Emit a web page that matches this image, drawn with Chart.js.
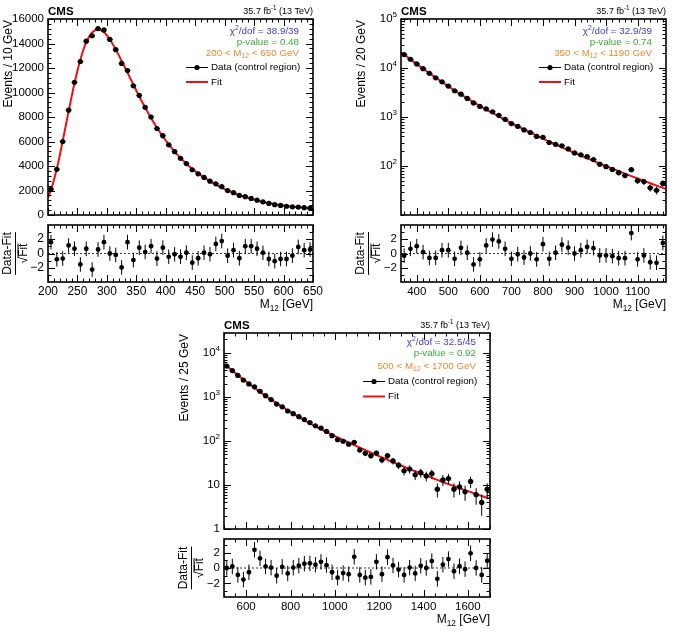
<!DOCTYPE html>
<html>
<head>
<meta charset="utf-8">
<script src="https://cdn.jsdelivr.net/npm/chart.js@4/dist/chart.umd.min.js"></script>
<style>
  body { margin: 0; background: #fff; }
  #wrap { position: relative; width: 673px; height: 632px; }
  #wrap canvas { position: absolute; left: 0; top: 0; }
</style>
</head>
<body>
<div id="wrap">
  <canvas id="mainA" width="673" height="632"></canvas>
  <canvas id="pullA" width="673" height="632"></canvas>
  <canvas id="mainB" width="673" height="632"></canvas>
  <canvas id="pullB" width="673" height="632"></canvas>
  <canvas id="mainC" width="673" height="632"></canvas>
  <canvas id="pullC" width="673" height="632"></canvas>
</div>
<script>
// Three dijet-mass control-region fits, each a main plot with a pull plot below.

// --- panel A: 200-650 GeV, 10 GeV bins
const massA = [205, 215, 225, 235, 245, 255, 265, 275, 285, 295, 305, 315, 325, 335, 345, 355, 365, 375, 385, 395,
  405, 415, 425, 435, 445, 455, 465, 475, 485, 495, 505, 515, 525, 535, 545, 555, 565, 575, 585, 595,
  605, 615, 625, 635, 645];
const countsA = [2100, 3731, 5996, 8561, 10827, 12531, 14187, 14631, 15218, 15109, 14330, 13497, 12377, 11787, 10547,
  9759, 8789, 7999, 7061, 6474, 5726, 5173, 4629, 4196, 3693, 3362, 3071, 2760, 2545, 2315,
  1992, 1824, 1599, 1498, 1351, 1207, 1073, 942, 839, 779, 715, 670, 651, 594, 558];
const fitMassA = [200, ...massA, 650];
const fitA = [1420, 2030, 3780, 6050, 8460, 10760, 12700, 14110, 14900, 15150, 14920, 14330, 13520, 12590, 11620,
  10640, 9680, 8770, 7910, 7120, 6410, 5760, 5180, 4660, 4190, 3770, 3400, 3065, 2765, 2480,
  2235, 2005, 1805, 1625, 1460, 1315, 1185, 1070, 965, 870, 800, 735, 678, 628, 583, 545, 528];
const pullsA = [1.55, -0.8, -0.7, 1.1, 0.65, -1.5, 0.65, -2.2, 0.55, 1.55, 0, -0.2, -1.9, 1.55, -0.9,
  0.8, 0.2, 1.0, -0.7, 0.8, -0.45, -0.1, -0.45, 0.1, -1.25, -0.65, 0.1, -0.1, 1.3, 1.7,
  -0.3, 0.45, -0.65, 1.0, 1.0, 0.65, 0.1, -0.75, -1.05, -0.75, -0.75, -0.3, 0.9, 0.45, 0.55];
const xTicksA = [200, 250, 300, 350, 400, 450, 500, 550, 600, 650];
const yTicksA = [0, 2000, 4000, 6000, 8000, 10000, 12000, 14000, 16000];

// --- panel B: 350-1190 GeV, 20 GeV bins
const massB = [360, 380, 400, 420, 440, 460, 480, 500, 520, 540, 560, 580, 600, 620, 640, 660, 680, 700, 720, 740,
  760, 780, 800, 820, 840, 860, 880, 900, 920, 940, 960, 980, 1000, 1020, 1040, 1060, 1080, 1100, 1120, 1140,
  1160, 1180];
const countsB = [18749, 15078, 12130, 9698, 7777, 6302, 5212, 4269, 3437, 2921, 2395, 1933, 1647, 1461, 1276,
  1081, 898, 733, 644, 545, 483, 402, 386, 302, 277, 259, 223, 185, 169, 155,
  135, 109, 97, 85, 73, 64, 84, 50, 48, 36, 32, 44];
const fitMassB = [350, ...massB, 1190];
const fitB = [21000, 18790, 15000, 12020, 9680, 7830, 6350, 5180, 4240, 3480, 2880, 2390, 2000, 1680, 1420,
  1210, 1028, 879, 753, 647, 558, 483, 418, 362, 315, 275, 240, 211, 185, 163,
  144, 127, 112, 99.5, 88.3, 78.5, 69.8, 62.2, 55.6, 49.7, 44.5, 39.8, 35.7, 33.9];
const pullsB = [-0.3, 0.64, 1.0, 0.18, -0.6, -0.6, 0.45, 0.45, -0.73, 0.77, 0.1, -1.5, -0.8, 1.1, 1.9,
  1.65, 0.64, -0.73, -0.1, -0.55, 0, -0.8, 1.27, -0.73, 0.1, 1.2, 0.8, 0, 0.45, 0.9,
  0.73, -0.27, -0.27, -0.36, -0.64, -0.64, 2.8, -0.8, -0.27, -1.2, -1.27, 1.45];
const xTicksB = [400, 500, 600, 700, 800, 900, 1000, 1100];
const yTicksB = [100, 1000, 10000, 100000];

// --- panel C: 500-1700 GeV, 25 GeV bins
const massC = [512.5, 537.5, 562.5, 587.5, 612.5, 637.5, 662.5, 687.5, 712.5, 737.5, 762.5, 787.5,
  812.5, 837.5, 862.5, 887.5, 912.5, 937.5, 962.5, 987.5, 1012.5, 1037.5, 1062.5, 1087.5,
  1112.5, 1137.5, 1162.5, 1187.5, 1212.5, 1237.5, 1262.5, 1287.5, 1312.5, 1337.5, 1362.5, 1387.5,
  1412.5, 1437.5, 1462.5, 1487.5, 1512.5, 1537.5, 1562.5, 1587.5, 1612.5, 1637.5, 1662.5, 1687.5];
const countsC = [4977, 3930, 3049, 2392, 1953, 1686, 1335, 1057, 863, 683, 593, 476, 414, 354, 304, 260,
  220, 195, 164, 131, 106, 98, 84, 93, 62, 52, 46, 53, 37, 46, 35, 28,
  21, 23, 17, 19, 16, 18, 8, 13, 14, 8, 9, 7, 12, 6, 4, 8];
const fitMassC = [500, ...massC, 1700];
const fitC = [5550, 4977, 3917, 3099, 2467, 1977, 1592, 1290, 1051, 861.7, 709.9, 588.8, 491.8, 412.9, 348,
  294.7, 250.8, 214.3, 184.1, 158.8, 137.6, 119.8, 104.6, 91.5, 80, 70.1, 61.6, 54.2, 47.7,
  42.1, 37.2, 32.9, 29.1, 25.8, 22.9, 20.4, 18.2, 16.2, 14.5, 13, 11.6, 10.4, 9.4, 8.5, 7.6,
  6.9, 6.2, 5.6, 5.1, 4.9];
const pullsC = [0, 0.2, -0.9, -1.5, -0.55, 2.35, 1.25, 0.2, 0.05, -1.0, 0.15, -0.7, 0.05, 0.3, 0.55, 0.6,
  0.42, 0.8, 0.37, -0.55, -1.25, -0.65, -0.8, 1.45, -0.9, -1.25, -1.15, 0.8, -0.8, 1.4, 0.33, -0.2,
  -0.9, 0.05, -0.7, 0.28, 0, 0.9, -1.4, 0.42, 1.15, -0.42, 0.23, -0.15, 1.9, 0, -0.9, 0.95];
const xTicksC = [600, 800, 1000, 1200, 1400, 1600];
const yTicksC = [1, 10, 100, 1000, 10000];

const pullTicks = [-2, 0, 2];

const W = 673, H = 632;
const FONT = '"Liberation Sans", Arial, Helvetica, sans-serif';
const RED = '#f01010';
const BLUE = '#3c3cc8';
const GREEN = '#38aa38';
const ORANGE = '#e68a2e';

function setFont(ctx, size, bold) {
  ctx.font = (bold ? 'bold ' : '') + size + 'px ' + FONT;
}

// parts: [[text, ''|'sup'|'sub'], ...]
function richWidth(ctx, parts, size, bold) {
  let w = 0;
  for (const [t, m] of parts) {
    setFont(ctx, m ? size * 0.7 : size, bold);
    w += ctx.measureText(t).width;
  }
  return w;
}

function drawRich(ctx, parts, x, y, size, align, color, bold) {
  const w = richWidth(ctx, parts, size, bold);
  let cx = align === 'right' ? x - w : align === 'center' ? x - w / 2 : x;
  ctx.fillStyle = color || '#000';
  ctx.textAlign = 'left';
  ctx.textBaseline = 'middle';
  for (const [t, m] of parts) {
    setFont(ctx, m ? size * 0.7 : size, bold);
    const dy = m === 'sup' ? -size * 0.38 : m === 'sub' ? size * 0.3 : 0;
    ctx.fillText(t, cx, y + dy);
    cx += ctx.measureText(t).width;
  }
  return w;
}

function plainLabel(v) {
  return [[String(v).replace('-', '\u2212'), '']];
}
function powLabel(v) {
  if (v < 100) return [[String(v), '']];
  return [['10', ''], [String(Math.round(Math.log10(v))), 'sup']];
}

function minorValues(min, max, step, log) {
  const out = [];
  if (log) {
    for (let e = Math.floor(Math.log10(min)); e <= Math.ceil(Math.log10(max)); e++) {
      for (let k = 1; k <= 9; k++) {
        const v = k * Math.pow(10, e);
        if (v >= min * 0.999 && v <= max * 1.001) out.push(v);
      }
    }
    return out;
  }
  for (let v = Math.ceil(min / step) * step; v <= max + 1e-9; v += step) out.push(v);
  return out;
}

function framePlugin(spec) {
  return {
    id: 'rootFrame',
    beforeDatasetsDraw(chart) {
      if (!spec.zeroLine) return;
      const ctx = chart.ctx, a = chart.chartArea;
      const y0 = chart.scales.y.getPixelForValue(0);
      ctx.save();
      ctx.strokeStyle = '#000';
      ctx.lineWidth = 0.8;
      ctx.setLineDash([2, 2]);
      ctx.beginPath();
      ctx.moveTo(a.left, y0);
      ctx.lineTo(a.right, y0);
      ctx.stroke();
      ctx.restore();
    },
    beforeDatasetDraw(chart, args) {
      const ds = chart.data.datasets[args.index];
      if (!ds.errY) return;
      const ctx = chart.ctx, a = chart.chartArea;
      const xs = chart.scales.x, ys = chart.scales.y;
      ctx.save();
      ctx.beginPath();
      ctx.rect(a.left, a.top, a.right - a.left, a.bottom - a.top);
      ctx.clip();
      ctx.strokeStyle = '#000';
      ctx.lineWidth = 1;
      ds.data.forEach((p, i) => {
        const px = xs.getPixelForValue(p.x);
        const lo = Math.max(p.y - ds.errY[i], ys.min);
        const yLo = ys.getPixelForValue(lo);
        const yHi = ys.getPixelForValue(p.y + ds.errY[i]);
        ctx.beginPath();
        ctx.moveTo(px, yLo);
        ctx.lineTo(px, yHi);
        if (ds.errX) {
          const py = ys.getPixelForValue(p.y);
          ctx.moveTo(xs.getPixelForValue(p.x - ds.errX), py);
          ctx.lineTo(xs.getPixelForValue(p.x + ds.errX), py);
        }
        ctx.stroke();
      });
      ctx.restore();
    },
    afterDraw(chart) {
      const ctx = chart.ctx, a = chart.chartArea;
      const xs = chart.scales.x, ys = chart.scales.y;
      ctx.save();
      ctx.strokeStyle = '#000';
      ctx.lineWidth = 1;

      const tickX = (v, len) => {
        const px = Math.round(xs.getPixelForValue(v)) + 0.5;
        ctx.beginPath();
        ctx.moveTo(px, a.bottom); ctx.lineTo(px, a.bottom - len);
        ctx.moveTo(px, a.top); ctx.lineTo(px, a.top + len);
        ctx.stroke();
      };
      const tickY = (v, len) => {
        const py = Math.round(ys.getPixelForValue(v)) + 0.5;
        ctx.beginPath();
        ctx.moveTo(a.left, py); ctx.lineTo(a.left + len, py);
        ctx.moveTo(a.right, py); ctx.lineTo(a.right - len, py);
        ctx.stroke();
      };
      minorValues(spec.xMin, spec.xMax, spec.xMinor, false).forEach((v) => tickX(v, 3.5));
      spec.xTicks.forEach((v) => tickX(v, 7));
      minorValues(spec.yMin, spec.yMax, spec.yMinor, spec.yLog).forEach((v) => tickY(v, 3.5));
      spec.yTicks.forEach((v) => tickY(v, 7));

      ctx.lineWidth = 1.6;
      ctx.strokeRect(a.left, a.top, a.right - a.left, a.bottom - a.top);

      // tick labels
      const fmt = spec.yLog ? powLabel : plainLabel;
      const ySize = spec.yLabelSize || 11.5;
      const xSize = spec.xLabelSize || 11.5;
      spec.yTicks.forEach((v) => {
        drawRich(ctx, fmt(v), a.left - 4, ys.getPixelForValue(v), ySize, 'right', '#000');
      });
      if (spec.xLabels) {
        spec.xTicks.forEach((v) => {
          drawRich(ctx, plainLabel(v), xs.getPixelForValue(v), a.bottom + 10, xSize, 'center', '#000');
        });
        drawRich(ctx, [['M', ''], ['12', 'sub'], [' [GeV]', '']], a.right, a.bottom + 23, 12, 'right', '#000');
      }

      // y title
      if (spec.yTitle) {
        ctx.save();
        ctx.translate(a.left - 39, a.top + 1);
        ctx.rotate(-Math.PI / 2);
        drawRich(ctx, [[spec.yTitle, '']], 0, 0, 12, 'right', '#000');
        ctx.restore();
      }
      if (spec.pullTitle) {
        ctx.save();
        ctx.translate(a.left - 33, (a.top + a.bottom) / 2);
        ctx.rotate(-Math.PI / 2);
        const wNum = drawRich(ctx, [['Data-Fit', '']], 0, -7, 12, 'center', '#000');
        ctx.lineWidth = 1;
        ctx.beginPath();
        ctx.moveTo(-wNum / 2, 0.5); ctx.lineTo(wNum / 2, 0.5);
        ctx.stroke();
        setFont(ctx, 12);
        const wRoot = ctx.measureText('\u221A').width;
        const wFit = ctx.measureText('Fit').width;
        const x0 = -(wRoot + wFit) / 2;
        drawRich(ctx, [['\u221AFit', '']], x0, 8.5, 12, 'left', '#000');
        ctx.beginPath();
        ctx.moveTo(x0 + wRoot - 1, 3); ctx.lineTo(x0 + wRoot + wFit, 3);
        ctx.stroke();
        ctx.restore();
      }

      if (spec.decor) spec.decor(ctx, a);
      ctx.restore();
    },
  };
}

function mainDecor(lines, rangeLo, rangeHi, off) {
  return (ctx, a) => {
    drawRich(ctx, [['CMS', '']], a.left, a.top - 7, 11.5, 'left', '#000', true);
    drawRich(ctx, [['35.7 fb', ''], ['-1', 'sup'], [' (13 TeV)', '']], a.right, a.top - 7, 9, 'right', '#000');
    const rx = a.right - 14;
    const fs = 9.8;
    drawRich(ctx, [['\u03C7', ''], ['2', 'sup'], ['/dof = ' + lines[0], '']], rx, a.top + off[0], fs, 'right', BLUE);
    drawRich(ctx, [['p-value = ' + lines[1], '']], rx, a.top + off[1], fs, 'right', GREEN);
    drawRich(ctx, [[rangeLo + ' < M', ''], ['12', 'sub'], [' < ' + rangeHi + ' GeV', '']], rx, a.top + off[2], fs, 'right', ORANGE);
    // legend
    const lx0 = a.right - 127, lx1 = a.right - 105;
    let y = a.top + off[3];
    ctx.strokeStyle = '#000';
    ctx.lineWidth = 1;
    ctx.beginPath(); ctx.moveTo(lx0, y); ctx.lineTo(lx1, y); ctx.stroke();
    ctx.fillStyle = '#000';
    ctx.beginPath(); ctx.arc((lx0 + lx1) / 2, y, 2.6, 0, Math.PI * 2); ctx.fill();
    drawRich(ctx, [['Data (control region)', '']], a.right - 102, y, fs, 'left', '#000');
    y = a.top + off[4];
    ctx.strokeStyle = RED;
    ctx.lineWidth = 2;
    ctx.beginPath(); ctx.moveTo(lx0, y); ctx.lineTo(lx1, y); ctx.stroke();
    drawRich(ctx, [['Fit', '']], a.right - 102, y, fs, 'left', '#000');
  };
}

function buildPanel(id, box, spec) {
  const datasets = [];
  if (spec.fitX) {
    datasets.push({
      data: spec.fitX.map((x, i) => ({ x, y: spec.fitY[i] })),
      showLine: true, pointRadius: 0, borderColor: RED, borderWidth: 2,
      cubicInterpolationMode: 'monotone', order: 2,
    });
  }
  datasets.push({
    data: spec.x.map((x, i) => ({ x, y: spec.y[i] })),
    showLine: false, pointRadius: spec.markerSize || 2.6, pointBorderWidth: 0,
    pointBackgroundColor: '#000', backgroundColor: '#000',
    errY: spec.errY, errX: spec.errX, order: 1,
  });
  return new Chart(document.getElementById(id), {
    type: 'scatter',
    data: { datasets },
    options: {
      responsive: false, animation: false, events: [],
      layout: { padding: { left: box.l, top: box.t, right: W - box.r, bottom: H - box.b } },
      scales: {
        x: { type: 'linear', min: spec.xMin, max: spec.xMax, display: false },
        y: { type: spec.yLog ? 'logarithmic' : 'linear', min: spec.yMin, max: spec.yMax, display: false },
      },
      plugins: { legend: { display: false }, tooltip: { enabled: false } },
    },
    plugins: [framePlugin(spec)],
  });
}

// panel A
buildPanel('mainA', { l: 48, t: 19, r: 313, b: 215 }, {
  x: massA, y: countsA, errY: countsA.map(Math.sqrt), errX: 5,
  fitX: fitMassA, fitY: fitA,
  xMin: 200, xMax: 650, xTicks: xTicksA, xMinor: 10,
  yMin: 0, yMax: 16000, yTicks: yTicksA, yMinor: 400, yLog: false, yLabelSize: 11.5,
  yTitle: 'Events / 10 GeV',
  decor: mainDecor(['38.9/39', '0.48'], 200, 650, [12.7, 23.3, 34, 48.5, 63]),
});
buildPanel('pullA', { l: 48, t: 225, r: 313, b: 282 }, {
  x: massA, y: pullsA, errY: pullsA.map(() => 1), markerSize: 2.4,
  xMin: 200, xMax: 650, xTicks: xTicksA, xMinor: 10, xLabels: true, xLabelSize: 12,
  yMin: -3.9, yMax: 3.9, yTicks: pullTicks, yMinor: 1, yLog: false, yLabelSize: 12,
  zeroLine: true, pullTitle: true,
});

// panel B
buildPanel('mainB', { l: 401, t: 19, r: 666, b: 215 }, {
  x: massB, y: countsB, errY: countsB.map(Math.sqrt), errX: 10,
  fitX: fitMassB, fitY: fitB,
  xMin: 350, xMax: 1190, xTicks: xTicksB, xMinor: 20,
  yMin: 10, yMax: 100000, yTicks: yTicksB, yLog: true,
  yTitle: 'Events / 20 GeV',
  decor: mainDecor(['32.9/39', '0.74'], 350, 1190, [12.7, 23.3, 34, 48.5, 63]),
});
buildPanel('pullB', { l: 401, t: 225, r: 666, b: 282 }, {
  x: massB, y: pullsB, errY: pullsB.map(() => 1), markerSize: 2.4,
  xMin: 350, xMax: 1190, xTicks: xTicksB, xMinor: 20, xLabels: true,
  yMin: -3.9, yMax: 3.9, yTicks: pullTicks, yMinor: 1, yLog: false,
  zeroLine: true, pullTitle: true,
});

// panel C
buildPanel('mainC', { l: 224, t: 333, r: 490, b: 529 }, {
  x: massC, y: countsC, errY: countsC.map(Math.sqrt), errX: 12.5,
  fitX: fitMassC, fitY: fitC,
  xMin: 500, xMax: 1700, xTicks: xTicksC, xMinor: 50,
  yMin: 1, yMax: 28000, yTicks: yTicksC, yLog: true,
  yTitle: 'Events / 25 GeV',
  decor: mainDecor(['32.5/45', '0.92'], 500, 1700, [9.5, 20.5, 33.5, 48.5, 63.5]),
});
buildPanel('pullC', { l: 224, t: 539, r: 490, b: 597 }, {
  x: massC, y: pullsC, errY: pullsC.map(() => 1), markerSize: 2.4,
  xMin: 500, xMax: 1700, xTicks: xTicksC, xMinor: 50, xLabels: true,
  yMin: -3.75, yMax: 3.75, yTicks: pullTicks, yMinor: 1, yLog: false,
  zeroLine: true, pullTitle: true,
});
</script>
</body>
</html>
